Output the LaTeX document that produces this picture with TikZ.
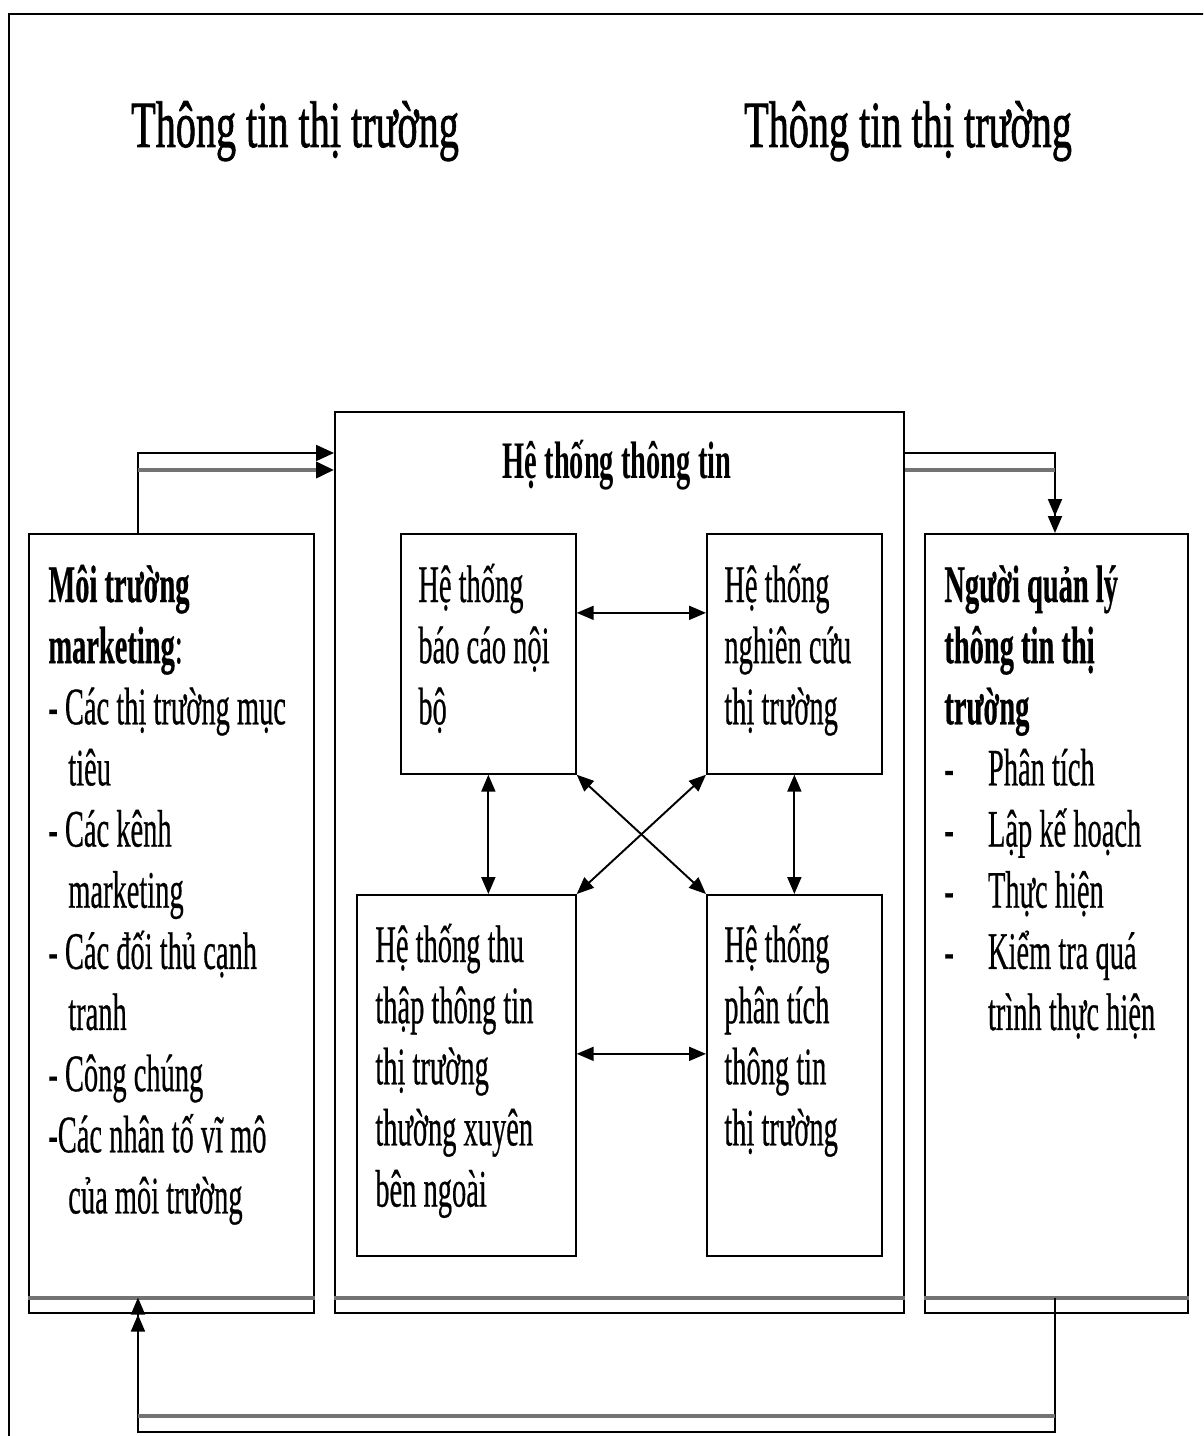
\documentclass[tikz,border=0pt]{standalone}
\usepackage{fontspec}
\setmainfont{Liberation Serif}
\usepackage{graphicx}
\usetikzlibrary{arrows.meta, positioning, calc}

% squeeze text horizontally
\newcommand{\sq}[2][0.54]{\scalebox{#1}[1]{#2}}
\newcommand{\boxlines}[1]{\sq{\parbox[t]{12cm}{\raggedright #1}}}

\begin{document}
\begin{tikzpicture}[x=0.02cm, y=-0.02cm,
  >={Triangle[length=0.34cm,width=0.28cm]},
  box/.style={draw, line width=1pt, inner sep=0, anchor=north west},
  txt/.style={inner sep=0, anchor=base west, font=\fontsize{30pt}{34.8pt}\selectfont\addfontfeature{FakeBold=0.6}},
  title/.style={inner sep=0, anchor=base, font=\fontsize{37.5pt}{40pt}\selectfont\addfontfeature{FakeBold=1.4}},
  link/.style={line width=1.1pt},
  bighead/.style={-{Triangle[length=0.36cm,width=0.32cm,color=black]}},
  shade/.style={line width=2.2pt, black!55}]
\useasboundingbox (0,0) rectangle (1203,1436);
\clip (0,0) rectangle (1203,1436);

% outer frame
\draw[line width=1pt] (9,14) rectangle (1240,1470);

% titles
\node[title] (lefttitle) at (295,147) {\sq[0.61]{Thông tin thị trường}};
\node[title] (righttitle) at (908,147) {\sq[0.61]{Thông tin thị trường}};

% big boxes
\node[box, minimum width=5.7cm, minimum height=15.58cm] (moitruong) at (28,533) {};
\node[box, minimum width=11.38cm, minimum height=18.02cm] (hethong) at (334,411) {};
\node[box, minimum width=5.26cm, minimum height=15.58cm] (quanly) at (924,533) {};
\foreach \b in {moitruong, hethong, quanly}
  \draw[shade] ([yshift=0.32cm]\b.south west) -- ([yshift=0.32cm]\b.south east);

% inner boxes
\node[box, minimum width=3.5cm, minimum height=4.8cm] (baocao) at (400,533) {};
\node[box, minimum width=3.5cm, minimum height=4.8cm] (nghiencuu) at (706,533) {};
\node[box, minimum width=4.38cm, minimum height=7.22cm] (thuthap) at (356,894) {};
\node[box, minimum width=3.5cm, minimum height=7.22cm] (phantich) at (706,894) {};

% texts
\node[txt] (mttext) at (48,602) {\boxlines{\textbf{Môi trường}\\
\textbf{marketing}:\\
- Các thị trường mục\\
\hspace*{21pt}tiêu\\
- Các kênh\\
\hspace*{21pt}marketing\\
- Các đối thủ cạnh\\
\hspace*{21pt}tranh\\
- Công chúng\\
-Các nhân tố vĩ mô\\
\hspace*{21pt}của môi trường}};
\node[txt] (qltext) at (944,602) {\boxlines{\textbf{Người quản lý}\\
\textbf{thông tin thị}\\
\textbf{trường}\\
\makebox[46pt][l]{-}Phân tích\\
\makebox[46pt][l]{-}Lập kế hoạch\\
\makebox[46pt][l]{-}Thực hiện\\
\makebox[46pt][l]{-}Kiểm tra quá\\
\hspace*{46pt}trình thực hiện}};
\node[title, font=\fontsize{30pt}{34.8pt}\selectfont\bfseries] (httext) at (617,478) {\sq{Hệ thống thông tin}};
\node[txt] (bctext) at (418,602) {\boxlines{Hệ thống\\báo cáo nội\\bộ}};
\node[txt] (nctext) at (724,602) {\boxlines{Hệ thống\\nghiên cứu\\thị trường}};
\node[txt] (tttext) at (375,962) {\boxlines{Hệ thống thu\\thập thông tin\\thị trường\\thường xuyên\\bên ngoài}};
\node[txt] (pttext) at (724,962) {\boxlines{Hệ thống\\phân tích\\thông tin\\thị trường}};

% environment -> information system
\coordinate (mtup) at ([xshift=2.2cm]moitruong.north west);
\coordinate (htin1) at ([yshift=-0.84cm]hethong.north west);
\coordinate (htin2) at ([yshift=-1.18cm]hethong.north west);
\draw[link,bighead] (mtup) |- (htin1);
\draw[shade,bighead] (mtup |- htin2) -- (htin2);

% information system -> managers
\coordinate (htout1) at ([yshift=-0.84cm]hethong.north east);
\coordinate (htout2) at ([yshift=-1.18cm]hethong.north east);
\coordinate (qlup) at ([xshift=2.62cm]quanly.north west);
\draw[link,->>] (htout1) -| (qlup);
\draw[shade] (htout2) -- (qlup |- htout2);

% managers -> environment
\coordinate (qldown) at ([xshift=2.62cm, yshift=0.32cm]quanly.south west);
\coordinate (mtdown) at ([xshift=2.2cm, yshift=0.32cm]moitruong.south west);
\coordinate (bottomline) at (0,1432);
\coordinate (shadeline) at (0,1416);
\draw[link,->>] (qldown) -- (qldown |- bottomline) -- (mtdown |- bottomline) -- (mtdown);
\draw[shade] (mtdown |- shadeline) -- (qldown |- shadeline);

% links inside the system
\coordinate (bcright) at ([yshift=0.82cm]baocao.east);
\coordinate (ttright) at ([yshift=0.43cm]thuthap.east);
\draw[link,<->] (bcright) -- (bcright -| nghiencuu.west);
\draw[link,<->] (ttright) -- (ttright -| phantich.west);
\draw[link,<->] (baocao.south) -- (baocao.south |- thuthap.north);
\draw[link,<->] (nghiencuu.south) -- (phantich.north);
\draw[link,<->] (baocao.south east) -- (phantich.north west);
\draw[link,<->] (nghiencuu.south west) -- (thuthap.north east);
\end{tikzpicture}
\end{document}
